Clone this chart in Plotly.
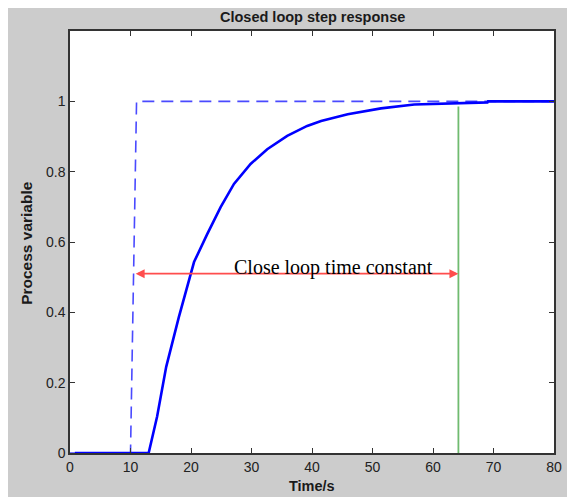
import plotly.graph_objects as go

# Closed-loop response (solid)
t_resp = [0.8, 13.0, 14.4, 14.9, 15.9, 18.0, 20.5, 22.7, 24.9, 27.1, 29.85, 32.6,
          35.9, 39.2, 41.5, 45.9, 51.4, 56.9, 61.9, 69.0, 69.1, 80.0]
y_resp = [0.0, 0.0, 0.104, 0.151, 0.245, 0.387, 0.543, 0.623, 0.699, 0.765, 0.822, 0.864,
          0.902, 0.930, 0.944, 0.963, 0.980, 0.991, 0.993, 0.997, 1.0, 1.0]

# Setpoint step (dashed)
t_step = [0.0, 10.0, 11.0, 80.0]
y_step = [0.0, 0.0, 1.0, 1.0]

# Green marker line at end of time constant
t_green = [64.2, 64.2]
y_green = [0.0, 0.985]

# Red double arrow
arrow_t_start = 10.6
arrow_t_end = 64.2
arrow_y = 0.51

label_text = "Close loop time constant"
label_t = 43.6
label_y = 0.527

x_ticks = [0, 10, 20, 30, 40, 50, 60, 70, 80]
y_ticks = [0, 0.2, 0.4, 0.6, 0.8, 1.0]
y_tick_text = ["0", "0.2", "0.4", "0.6", "0.8", "1"]

# figure geometry (page body adds an 8px offset)
OFF = 8
W, H = 575 - OFF, 497 - OFF
ML, MR, MT = 70 - OFF, 21, 31 - OFF
PB = 453.3 - OFF
MB = H - PB
PW = W - ML - MR
PH = PB - MT


def px(sx):
    return (sx - OFF - ML) / PW


def py(sy):
    return (PB - (sy - OFF)) / PH


fig = go.Figure()
fig.add_trace(go.Scatter(x=t_step, y=y_step, mode="lines",
                         line=dict(color="#4a4aff", width=1.6, dash="12px,7px"),
                         hoverinfo="skip"))
fig.add_trace(go.Scatter(x=t_green, y=y_green, mode="lines",
                         line=dict(color="#70bb70", width=1.8), hoverinfo="skip"))
fig.add_trace(go.Scatter(x=t_resp, y=y_resp, mode="lines",
                         line=dict(color="#0000ff", width=2.6), hoverinfo="skip"))

axis_font = dict(family="Arial, Liberation Sans, sans-serif", size=14, color="#222222")
label_font_family = "Arial, Liberation Sans, sans-serif"

fig.update_layout(
    width=W, height=H,
    margin=dict(l=ML, r=MR, t=MT, b=MB, pad=0),
    paper_bgcolor="#cccccc",
    plot_bgcolor="white",
    showlegend=False,
    xaxis=dict(range=[0, 80], tickvals=x_ticks, ticks="inside", ticklen=5,
               tickcolor="#333333", showline=True, linecolor="#333333", linewidth=1.5,
               mirror="ticks", showgrid=False, zeroline=False, tickfont=axis_font),
    yaxis=dict(range=[0, 1.2], tickvals=y_ticks, ticktext=y_tick_text, ticks="inside",
               ticklen=5, tickcolor="#333333", showline=True, linecolor="#333333",
               linewidth=1.5, mirror="ticks", showgrid=False, zeroline=False,
               tickfont=axis_font),
    annotations=[
        dict(x=arrow_t_end, y=arrow_y, ax=arrow_t_start, ay=arrow_y,
             xref="x", yref="y", axref="x", ayref="y", text="",
             showarrow=True, arrowside="end+start", arrowhead=2, arrowsize=1,
             arrowwidth=1.8, arrowcolor="#ff4d4d", standoff=0, startstandoff=0),
        dict(x=label_t, y=label_y, xref="x", yref="y", text=label_text,
             showarrow=False, xanchor="center", yanchor="middle",
             font=dict(family="Liberation Serif, Times New Roman, serif", size=20,
                       color="black")),
        dict(x=0.5, y=py(17), xref="paper", yref="paper",
             text="<b>Closed loop step response</b>", showarrow=False,
             xanchor="center", yanchor="middle",
             font=dict(family=label_font_family, size=14.5, color="#1a1a1a")),
        dict(x=0.5, y=py(486), xref="paper", yref="paper",
             text="<b>Time/s</b>", showarrow=False, xanchor="center", yanchor="middle",
             font=dict(family=label_font_family, size=14.5, color="#1a1a1a")),
        dict(x=px(27), y=py(243), xref="paper", yref="paper",
             text="<b>Process variable</b>", showarrow=False, textangle=-90,
             xanchor="center", yanchor="middle",
             font=dict(family=label_font_family, size=15.5, color="#1a1a1a")),
    ],
)

fig.write_html("out.html")
